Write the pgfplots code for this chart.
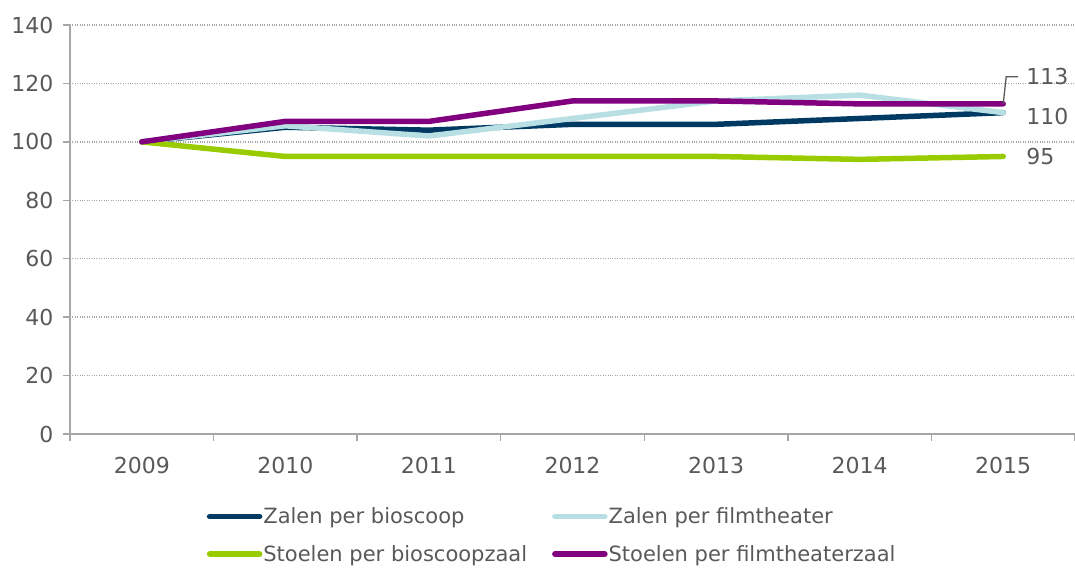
\documentclass[border=0pt]{standalone}
\usepackage{fontspec}
\setmainfont{DejaVu Sans}
\usepackage{pgfplots}
\pgfplotsset{compat=1.18}
\definecolor{navy}{HTML}{003A63}
\definecolor{lblue}{HTML}{B8DFE4}
\definecolor{lgreen}{HTML}{99CC00}
\definecolor{purp}{HTML}{800080}
\definecolor{txt}{HTML}{595959}
\definecolor{axgray}{HTML}{A6A6A6}

\begin{document}
\begin{tikzpicture}
\begin{axis}[
    scale only axis,
    width=1005pt, height=409pt,
    xmin=-0.5, xmax=6.5, ymin=0, ymax=140,
    axis x line=bottom, axis y line=left,
    axis line style={axgray, line width=1.3pt, -},
    xtick={-0.5,0.5,...,6.5},
    x tick label as interval,
    xticklabels={2009,2010,2011,2012,2013,2014,2015},
    ytick={0,20,...,140},
    major tick length=7pt,
    tick align=outside,
    tick style={axgray, line width=1.3pt},
    ymajorgrids,
    grid style={dotted, axgray, line width=1.3pt},
    ticklabel style={font=\fontsize{22}{26}\selectfont, text=txt},
    xticklabel style={yshift=-13pt},
    yticklabel style={xshift=-6pt},
    /pgf/number format/assume math mode=true,
    legend columns=2,
    legend style={at={(0.136,-0.178)}, anchor=north west, draw=none, fill=none,
        font=\fontsize{21}{25}\selectfont, text=txt, inner sep=0pt,
        row sep=18pt,
        nodes={inner sep=1pt},
        /tikz/every even column/.append style={column sep=24pt}},
    legend cell align=left,
    legend image code/.code={\draw[line width=5.5pt, line cap=round] (2.5pt,0pt) -- (52.5pt,0pt);},
    every axis plot/.append style={line width=5.5pt, line cap=round, line join=round},
]
\addplot[navy] coordinates {(0,100) (1,105) (2,104) (3,106) (4,106) (5,108) (6,110)};
\addplot[lblue] coordinates {(0,100) (1,105.5) (2,102) (3,108) (4,114) (5,116) (6,110)};
\addplot[lgreen] coordinates {(0,100) (1,95) (2,95) (3,95) (4,95) (5,94) (6,95)};
\addplot[purp] coordinates {(0,100) (1,107) (2,107) (3,114) (4,114) (5,113) (6,113)};
\legend{Zalen per bioscoop, Zalen per filmtheater, Stoelen per bioscoopzaal, Stoelen per filmtheaterzaal}
\node[anchor=west, inner sep=0pt, text=txt, font=\fontsize{22}{26}\selectfont, xshift=23pt] at (axis cs:6,122.3) {113};
\node[anchor=west, inner sep=0pt, text=txt, font=\fontsize{22}{26}\selectfont, xshift=23pt] at (axis cs:6,108.6) {110};
\node[anchor=west, inner sep=0pt, text=txt, font=\fontsize{22}{26}\selectfont, xshift=23pt] at (axis cs:6,94.9) {95};
\draw[txt, line width=1.3pt] (axis cs:6,113) -- ([xshift=3pt]axis cs:6,122.3) -- ([xshift=15pt]axis cs:6,122.3);
\coordinate (o) at (rel axis cs:0,0);
\end{axis}
\pgfresetboundingbox
\path[use as bounding box] (o) ++(-70pt,-133pt) rectangle ++(1075pt,567pt);
\end{tikzpicture}
\end{document}
